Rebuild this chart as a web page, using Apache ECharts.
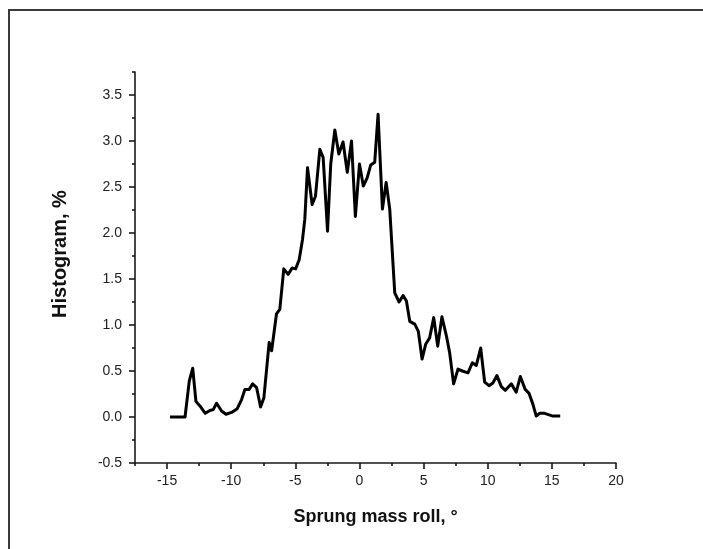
<!DOCTYPE html>
<html>
<head>
<meta charset="utf-8">
<script src="https://cdn.jsdelivr.net/npm/echarts@6/dist/echarts.min.js"></script>
<style>
  html, body { margin: 0; padding: 0; background: #fff; }
  #chart { width: 703px; height: 549px; }
</style>
</head>
<body>
<div id="chart"></div>
<script>
// Roll angle of the sprung mass (degrees) and histogram share (%)
const rollDeg = [
  -14.77, -14.4, -14.0, -13.6, -13.27, -13.0, -12.75, -12.44, -12.02, -11.66,
  -11.4, -11.14, -10.75, -10.41, -9.97, -9.53, -9.19, -8.93, -8.6, -8.33,
  -8.02, -7.71, -7.45, -7.04, -6.85, -6.47, -6.21, -5.9, -5.56, -5.25,
  -4.98, -4.7, -4.44, -4.26, -4.05, -3.69, -3.43, -3.09, -2.83, -2.49,
  -2.24, -1.92, -1.61, -1.28, -0.95, -0.62, -0.32, 0.0, 0.3, 0.6,
  0.88, 1.19, 1.45, 1.79, 2.08, 2.36, 2.75, 3.09, 3.4, 3.66,
  3.92, 4.31, 4.59, 4.88, 5.16, 5.47, 5.79, 6.1, 6.43, 6.78,
  7.03, 7.34, 7.68, 8.02, 8.46, 8.8, 9.11, 9.45, 9.76, 10.1,
  10.4, 10.72, 11.06, 11.37, 11.84, 12.22, 12.54, 12.92, 13.21, 13.52,
  13.78, 14.04, 14.43, 15.08, 15.65
];
const histPct = [
  0.0, 0.0, 0.0, 0.0, 0.39, 0.53, 0.17, 0.12, 0.04, 0.07,
  0.08, 0.15, 0.065, 0.03, 0.05, 0.09, 0.19, 0.30, 0.30, 0.36,
  0.32, 0.11, 0.21, 0.81, 0.72, 1.12, 1.17, 1.61, 1.55, 1.62,
  1.61, 1.71, 1.93, 2.15, 2.71, 2.31, 2.40, 2.91, 2.82, 2.02,
  2.75, 3.12, 2.86, 2.99, 2.66, 3.0, 2.18, 2.75, 2.51, 2.60,
  2.74, 2.77, 3.29, 2.26, 2.55, 2.26, 1.35, 1.25, 1.32, 1.26,
  1.04, 1.01, 0.93, 0.63, 0.79, 0.86, 1.08, 0.77, 1.09, 0.88,
  0.70, 0.36, 0.52, 0.50, 0.48, 0.59, 0.56, 0.75, 0.38, 0.34,
  0.37, 0.45, 0.33, 0.29, 0.36, 0.27, 0.44, 0.30, 0.26, 0.14,
  0.01, 0.04, 0.04, 0.01, 0.01
];

// Axis ticks: labelled major ticks and short unlabelled minor ticks
const xMajorTicks = [-15, -10, -5, 0, 5, 10, 15, 20];
const xMinorTicks = [-17.5, -12.5, -7.5, -2.5, 2.5, 7.5, 12.5, 17.5];
const yMajorTicks = [-0.5, 0.0, 0.5, 1.0, 1.5, 2.0, 2.5, 3.0, 3.5];
const yMinorTicks = [-0.25, 0.25, 0.75, 1.25, 1.75, 2.25, 2.75, 3.25, 3.75];

const xTitle = 'Sprung mass roll, °';
const yTitle = 'Histogram, %';

const FONT = '"Liberation Sans", Arial, sans-serif';
const AXIS_COLOR = '#1a1a1a';
const X_RANGE = [-17.5, 20];
const Y_RANGE = [-0.5, 3.75];

const chart = echarts.init(document.getElementById('chart'), null, { renderer: 'canvas' });

function xAxisDef(ticks, len, withLabels, withName) {
  return {
    type: 'value', position: 'bottom', min: X_RANGE[0], max: X_RANGE[1],
    splitLine: { show: false },
    axisLine: { show: withLabels, onZero: false, lineStyle: { color: AXIS_COLOR, width: 1.6 } },
    axisTick: { show: true, inside: false, length: len, customValues: ticks,
                lineStyle: { color: AXIS_COLOR, width: 1.6 } },
    axisLabel: withLabels ? {
      show: true, customValues: ticks, margin: 11, color: '#222',
      fontFamily: FONT, fontSize: 14,
      formatter: v => String(Math.round(v))
    } : { show: false },
    name: withName ? xTitle : '',
    nameLocation: 'middle', nameGap: 45,
    nameTextStyle: { fontFamily: FONT, fontSize: 18, fontWeight: 'bold', color: '#111' }
  };
}

function yAxisDef(ticks, len, withLabels) {
  return {
    type: 'value', position: 'left', min: Y_RANGE[0], max: Y_RANGE[1],
    splitLine: { show: false },
    axisLine: { show: withLabels, onZero: false, lineStyle: { color: AXIS_COLOR, width: 1.6 } },
    axisTick: { show: true, inside: false, length: len, customValues: ticks,
                lineStyle: { color: AXIS_COLOR, width: 1.6 } },
    axisLabel: withLabels ? {
      show: true, customValues: ticks, margin: 13, color: '#222',
      fontFamily: FONT, fontSize: 14,
      formatter: v => v.toFixed(1)
    } : { show: false }
  };
}

chart.setOption({
  backgroundColor: '#fff',
  animation: false,
  grid: { left: 135, right: 87, top: 72, bottom: 86, containLabel: false },
  xAxis: [
    xAxisDef(xMajorTicks, 6, true, true),
    xAxisDef(xMinorTicks, 3, false, false)
  ],
  yAxis: [
    yAxisDef(yMajorTicks, 6, true),
    yAxisDef(yMinorTicks, 3, false)
  ],
  graphic: [
    {
      type: 'rect', silent: true, z: -1,
      shape: { x: 9, y: 10, width: 720, height: 560 },
      style: { fill: 'none', stroke: '#3a3a3a', lineWidth: 2 }
    },
    {
      type: 'text', silent: true,
      x: 60, y: 254, rotation: Math.PI / 2,
      style: {
        text: yTitle, fontFamily: FONT, fontSize: 20, fontWeight: 'bold',
        fill: '#111', align: 'center', verticalAlign: 'middle'
      }
    }
  ],
  series: [{
    type: 'line',
    xAxisIndex: 0, yAxisIndex: 0,
    showSymbol: false,
    smooth: false,
    lineStyle: { color: '#000', width: 3, join: 'round' },
    data: rollDeg.map((x, i) => [x, histPct[i]])
  }]
});
</script>
</body>
</html>
